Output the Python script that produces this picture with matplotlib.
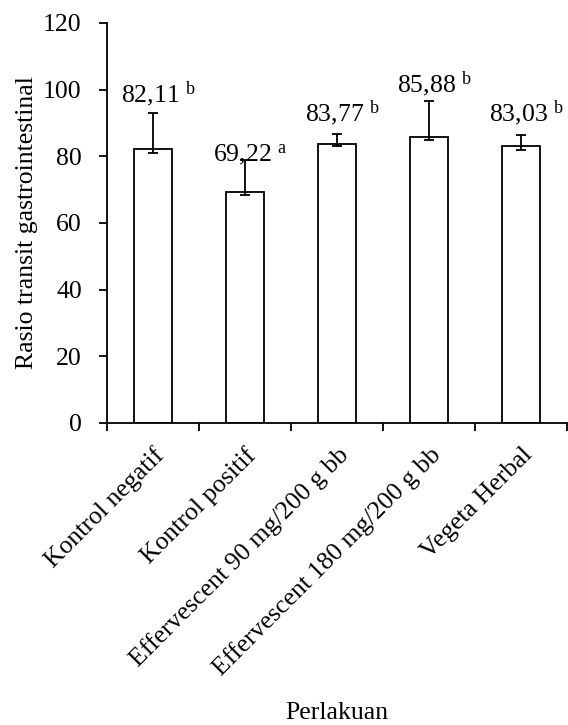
import matplotlib
matplotlib.use("Agg")
import matplotlib.pyplot as plt
import numpy as np

plt.rcParams['font.family'] = ['Liberation Serif', 'DejaVu Serif']
plt.rcParams['mathtext.fontset'] = 'custom'
plt.rcParams['mathtext.rm'] = 'Liberation Serif'
plt.rcParams['mathtext.it'] = 'Liberation Serif:italic'

categories = ["Kontrol negatif", "Kontrol positif", "Effervescent 90 mg/200 g bb",
              "Effervescent 180 mg/200 g bb", "Vegeta Herbal"]
values = [82.11, 69.22, 83.77, 85.88, 83.03]
err_upper = [11.0, 9.7, 3.0, 10.6, 3.5]
err_lower = [1.0, 0.7, 0.8, 1.0, 1.0]
letters = ["b", "a", "b", "b", "b"]
value_labels = ["82,11", "69,22", "83,77", "85,88", "83,03"]
yticks = [0, 20, 40, 60, 80, 100, 120]

# layout: label heights (data units)
label_y = [98.5, 80.5, 93.0, 101.5, 93.0]

FS = 18.5
fig = plt.figure(figsize=(5.68, 7.25), dpi=100)
ax = fig.add_axes([0.188, 0.4166, 0.81, 0.5517])

x = np.arange(len(categories))
ax.bar(x, values, width=0.41, color='white', edgecolor='black', linewidth=1.3, zorder=2)
ax.errorbar(x, values, yerr=[err_lower, err_upper], fmt='none', ecolor='black',
            elinewidth=1.3, capsize=3.5, capthick=1.3, zorder=3)

for xi, ly, lab, let in zip(x, label_y, value_labels, letters):
    ax.annotate(lab + r" $^{\mathrm{" + let + "}}$", xy=(xi, ly), xytext=(4, 0),
                textcoords='offset points', ha='center', va='center', fontsize=FS)

ax.set_xlim(-0.5, len(categories) - 0.5)
ax.set_ylim(0, 120)
ax.set_yticks(yticks)
ax.set_yticklabels([str(t) for t in yticks], fontsize=FS)
ax.set_xticks(np.arange(-0.5, len(categories), 1.0))
ax.set_xticklabels([])
ax.set_xticks(x, minor=True)
ax.set_xticklabels(categories, minor=True, rotation=45, ha='right', rotation_mode='anchor', fontsize=FS)
ax.tick_params(axis='x', which='minor', length=0, pad=15)
ax.tick_params(axis='x', which='major', length=6, width=1.3, direction='out')
ax.tick_params(axis='y', length=6, width=1.3, direction='out', pad=12)

for s in ['top', 'right']:
    ax.spines[s].set_visible(False)
for s in ['left', 'bottom']:
    ax.spines[s].set_linewidth(1.3)

ax.set_ylabel("Rasio transit gastrointestinal", fontsize=FS, labelpad=4)
fig.text(0.593, 0.016, "Perlakuan", ha='center', va='center', fontsize=FS)

fig.savefig("out.png", dpi=100)
